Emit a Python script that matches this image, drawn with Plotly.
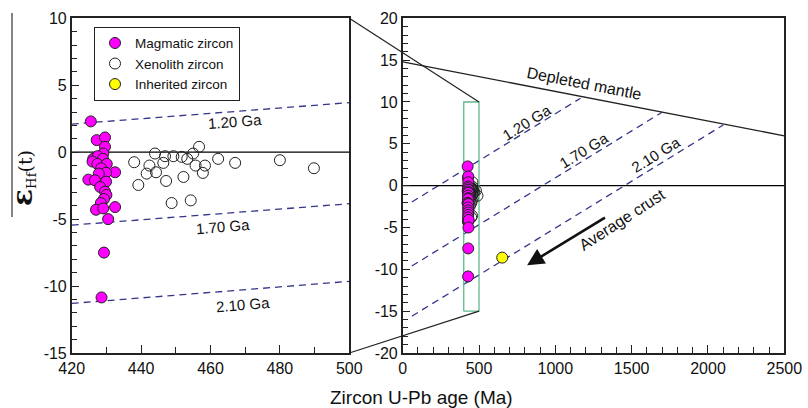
import plotly.graph_objects as go

# ---------------- data ----------------
mag_age = [425.5, 427.2, 429.6, 429.6, 429.1, 426.2, 427.5, 429.0, 426.0, 427.4, 430.1,
           428.5, 432.5, 429.9, 427.8, 424.8, 426.7, 429.9, 428.2, 429.6, 430.0, 429.3,
           428.4, 427.0, 429.1, 432.5, 430.5, 429.3, 428.6]
mag_eps = [2.3, 0.9, 1.1, 0.4, -0.1, -0.5, -0.3, -0.5, -0.7, -0.88, -0.88,
           -1.2, -1.5, -1.53, -1.6, -2.05, -2.1, -2.2, -2.6, -2.95, -3.2, -3.5,
           -3.8, -4.3, -4.2, -4.1, -5.0, -7.5, -10.85]

xen_age = [438.0, 442.4, 441.6, 444.0, 444.3, 446.4, 446.9, 449.3, 451.7, 453.3, 455.0,
           456.7, 455.7, 458.4, 457.8, 462.2, 467.1, 480.0, 489.8, 439.2, 447.2, 452.2,
           448.8, 454.3]
xen_eps = [-0.75, -1.0, -1.6, -0.1, -1.5, -0.8, -0.3, -0.3, -0.35, -0.5, -0.1,
           0.4, -1.0, -1.0, -1.55, -0.5, -0.8, -0.6, -1.2, -2.45, -2.15, -1.85,
           -3.8, -3.6]

inh_age = [652]
inh_eps = [-8.6]

# tick labels
x1_ticks = [420, 440, 460, 480, 500]
x1_text = ["420", "440", "460", "480", "500"]
y1_ticks = [-15, -10, -5, 0, 5, 10]
y1_text = ["-15", "-10", "-5", "0", "5", "10"]
x2_ticks = [0, 500, 1000, 1500, 2000, 2500]
x2_text = ["0", "500", "1000", "1500", "2000", "2500"]
y2_ticks = [-20, -15, -10, -5, 0, 5, 10, 15, 20]
y2_text = ["-20", "-15", "-10", "-5", "0", "5", "10", "15", "20"]

# left-panel model-age reference lines (age, eps endpoints)
left_ref_age = [420, 500]
left_ref_120 = [2.1, 3.7]
left_ref_170 = [-5.45, -3.85]
left_ref_210 = [-11.3, -9.65]
left_chur_age = [420, 500]
left_chur_eps = [0, 0]

# right-panel reference lines
dm_age = [0, 2500]
dm_eps = [14.8, 5.95]
r120_age = [60, 1165]
r120_eps = [-1.95, 10.45]
r170_age = [60, 1697]
r170_eps = [-9.6, 8.75]
r210_age = [60, 2100]
r210_eps = [-15.6, 7.25]
chur_age = [0, 2500]
chur_eps = [0, 0]
box_age = [400, 500, 500, 400, 400]
box_eps = [-15, -15, 10, 10, -15]

arrow_tail = (1335, -3.7)
arrow_head = (815, -9.5)

# ---------------- layout geometry ----------------
W, H = 808, 408
xdom1 = [71.7 / W, 349.3 / W]
xdom2 = [402.7 / W, 784.3 / W]
ydom = [1 - 353.0 / H, 1 - 18.3 / H]
xr1, yr1 = [420, 500], [-15, 10]
xr2, yr2 = [0, 2500], [-20, 20]

FONT = "Liberation Sans, Arial, sans-serif"
DASH = "#35358a"
MAG = "#ff00ff"

def px(v, dom, rng):
    return dom[0] + (v - rng[0]) / (rng[1] - rng[0]) * (dom[1] - dom[0])

fig = go.Figure()

# reference lines, left
for ys in (left_ref_120, left_ref_170, left_ref_210):
    fig.add_trace(go.Scatter(x=left_ref_age, y=ys, mode="lines", xaxis="x", yaxis="y",
                             line=dict(color=DASH, width=1.3, dash="7px,5px"), showlegend=False, hoverinfo="skip"))
fig.add_trace(go.Scatter(x=left_chur_age, y=left_chur_eps, mode="lines", xaxis="x", yaxis="y",
                         line=dict(color="black", width=1.3), showlegend=False, hoverinfo="skip"))

# reference lines, right
for xs, ys in ((r120_age, r120_eps), (r170_age, r170_eps), (r210_age, r210_eps)):
    fig.add_trace(go.Scatter(x=xs, y=ys, mode="lines", xaxis="x2", yaxis="y2",
                             line=dict(color=DASH, width=1.3, dash="7px,5px"), showlegend=False, hoverinfo="skip"))
fig.add_trace(go.Scatter(x=dm_age, y=dm_eps, mode="lines", xaxis="x2", yaxis="y2",
                         line=dict(color="#222", width=1.3), showlegend=False, hoverinfo="skip"))
fig.add_trace(go.Scatter(x=chur_age, y=chur_eps, mode="lines", xaxis="x2", yaxis="y2",
                         line=dict(color="black", width=1.3), showlegend=False, hoverinfo="skip"))
fig.add_trace(go.Scatter(x=box_age, y=box_eps, mode="lines", xaxis="x2", yaxis="y2",
                         line=dict(color="#5fb98a", width=1.3), showlegend=False, hoverinfo="skip"))

# points
mk_mag = dict(color=MAG, size=11, line=dict(color="#222", width=1))
mk_xen = dict(color="rgba(255,255,255,0)", size=11, line=dict(color="#222", width=1))
mk_inh = dict(color="#ffff00", size=11, line=dict(color="#222", width=1))

fig.add_trace(go.Scatter(x=xen_age, y=xen_eps, mode="markers", xaxis="x2", yaxis="y2",
                         marker=mk_xen, showlegend=False))
fig.add_trace(go.Scatter(x=mag_age, y=mag_eps, mode="markers", xaxis="x2", yaxis="y2",
                         marker=mk_mag, showlegend=False))
fig.add_trace(go.Scatter(x=inh_age, y=inh_eps, mode="markers", xaxis="x2", yaxis="y2",
                         marker=mk_inh, name="Inherited zircon", legendrank=3))
fig.add_trace(go.Scatter(x=mag_age, y=mag_eps, mode="markers", xaxis="x", yaxis="y",
                         marker=mk_mag, name="Magmatic zircon", legendrank=1))
fig.add_trace(go.Scatter(x=xen_age, y=xen_eps, mode="markers", xaxis="x", yaxis="y",
                         marker=mk_xen, name="Xenolith zircon", legendrank=2))

axcommon = dict(showline=True, mirror=True, linecolor="#222", linewidth=1.5, ticks="inside",
                ticklen=8, tickcolor="#222", tickwidth=1, showgrid=False, zeroline=False,
                tickfont=dict(family=FONT, size=16, color="#111"), automargin=False)

fig.update_layout(
    width=W, height=H, margin=dict(l=0, r=0, t=0, b=0, pad=0, autoexpand=False),
    paper_bgcolor="white", plot_bgcolor="white",
    font=dict(family=FONT, color="#111"),
    xaxis=dict(domain=xdom1, range=xr1, tickvals=x1_ticks, ticktext=x1_text, anchor="y",
               minor=dict(dtick=10, ticks="inside", ticklen=6, tickcolor="#222"), **axcommon),
    yaxis=dict(domain=ydom, range=yr1, tickvals=y1_ticks, ticktext=y1_text, anchor="x",
               minor=dict(dtick=1, ticks="inside", ticklen=6, tickcolor="#222"), **axcommon),
    xaxis2=dict(domain=xdom2, range=xr2, tickvals=x2_ticks, ticktext=x2_text, anchor="y2",
                minor=dict(dtick=100, ticks="inside", ticklen=6, tickcolor="#222"), **axcommon),
    yaxis2=dict(domain=ydom, range=yr2, tickvals=y2_ticks, ticktext=y2_text, anchor="x2",
                minor=dict(dtick=1, ticks="inside", ticklen=6, tickcolor="#222"), **axcommon),
    legend=dict(x=94 / W, y=1 - 26.7 / H, xanchor="left", yanchor="top",
                bgcolor="white", bordercolor="#222", borderwidth=1,
                font=dict(family=FONT, size=13.5, color="#111"), tracegroupgap=0,
                itemwidth=30),
)

# connecting zoom lines
x_l = xdom1[1]
fig.add_shape(type="line", xref="paper", yref="paper",
              x0=x_l, y0=ydom[1], x1=px(500, xdom2, xr2), y1=px(10, ydom, yr2),
              line=dict(color="#222", width=1.2))
fig.add_shape(type="line", xref="paper", yref="paper",
              x0=x_l, y0=ydom[0], x1=px(500, xdom2, xr2), y1=px(-15, ydom, yr2),
              line=dict(color="#222", width=1.2))
# bar near y label
fig.add_shape(type="line", xref="paper", yref="paper",
              x0=12 / W, x1=12 / W, y0=1 - 217 / H, y1=1 - 13 / H,
              line=dict(color="#333", width=1.2))

ann = []
tf = dict(family=FONT, size=15, color="#111")
ann += [
    dict(x=467.0, y=2.28, xref="x", yref="y", text="1.20 Ga", textangle=-4.5, showarrow=False, font=tf),
    dict(x=463.7, y=-5.52, xref="x", yref="y", text="1.70 Ga", textangle=-4.5, showarrow=False, font=tf),
    dict(x=469.5, y=-11.35, xref="x", yref="y", text="2.10 Ga", textangle=-4.5, showarrow=False, font=tf),
    dict(x=1194, y=12.24, xref="x2", yref="y2", text="Depleted mantle", textangle=11, showarrow=False,
         font=dict(family=FONT, size=16, color="#111")),
    dict(x=812, y=7.5, xref="x2", yref="y2", text="1.20 Ga", textangle=-31.6, showarrow=False, font=tf),
    dict(x=1185, y=4.2, xref="x2", yref="y2", text="1.70 Ga", textangle=-31.6, showarrow=False, font=tf),
    dict(x=1659, y=3.7, xref="x2", yref="y2", text="2.10 Ga", textangle=-31.6, showarrow=False, font=tf),
    dict(x=1440, y=-4.1, xref="x2", yref="y2", text="Average crust", textangle=-33, showarrow=False,
         font=dict(family=FONT, size=16, color="#111")),
    dict(x=arrow_head[0], y=arrow_head[1], ax=arrow_tail[0], ay=arrow_tail[1],
         xref="x2", yref="y2", axref="x2", ayref="y2", text="", showarrow=True,
         arrowhead=2, arrowsize=1.3, arrowwidth=2.6, arrowcolor="#111"),
    dict(x=421 / W, y=1 - 397 / H, xref="paper", yref="paper", text="Zircon U-Pb age (Ma)",
         xanchor="center", yanchor="middle",
         showarrow=False, font=dict(family=FONT, size=19, color="#111")),
    dict(x=22 / W, y=1 - 178 / H, xref="paper", yref="paper", xanchor="center", yanchor="middle",
         text="<span style='font-size:28px'><b>ε</b></span><sub>Hf</sub>(t)", textangle=-90,
         showarrow=False, font=dict(family="DejaVu Serif, serif", size=19, color="#111")),
]
fig.update_layout(annotations=ann)

fig.write_html("out.html")
